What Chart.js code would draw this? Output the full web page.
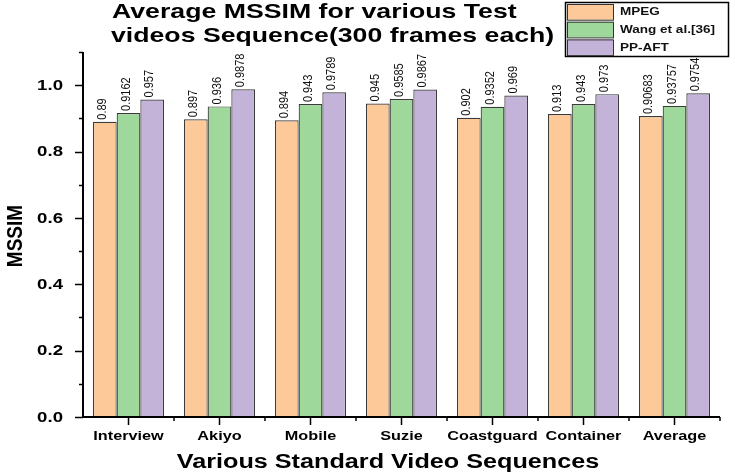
<!DOCTYPE html>
<html>
<head>
<meta charset="utf-8">
<script src="https://cdn.jsdelivr.net/npm/chart.js@4"></script>
<style>
  body { margin: 0; background: #fff; }
  #wrap { width: 735px; height: 475px; }
</style>
</head>
<body>
<div id="wrap"><canvas id="myChart" width="735" height="475"></canvas></div>
<script>
const categories = ['Interview', 'Akiyo', 'Mobile', 'Suzie', 'Coastguard', 'Container', 'Average'];
const seriesNames = ['MPEG', 'Wang et al.[36]', 'PP-AFT'];
const mpeg = [0.89, 0.897, 0.894, 0.945, 0.902, 0.913, 0.90683];
const wang = [0.9162, 0.936, 0.943, 0.9585, 0.9352, 0.943, 0.93757];
const ppaft = [0.957, 0.9878, 0.9789, 0.9867, 0.969, 0.973, 0.9754];
const yTickLabels = ['0.0', '0.2', '0.4', '0.6', '0.8', '1.0'];
const colors = ['#fdc999', '#9ed89b', '#c3b3d8'];
const titleLines = ['Average MSSIM for various Test', 'videos Sequence(300 frames each)'];

// the source image looks stretched sideways, so text is widened a bit
function wideText(ctx, text, x, y, sx, sy) {
    ctx.save();
    ctx.translate(x, y);
    ctx.scale(sx, sy || 1);
    ctx.fillText(text, 0, 0);
    ctx.restore();
}

// draws title, legend, axis lines, tick marks, tick labels and value labels
const extras = {
    id: 'extras',
    afterDatasetsDraw(chart) {
        const ctx = chart.ctx;
        const xs = chart.scales.x, ys = chart.scales.y;
        const a = chart.chartArea;

        // value labels
        ctx.save();
        ctx.fillStyle = '#111';
        ctx.font = '11px "Liberation Sans", Arial';
        ctx.textAlign = 'left';
        ctx.textBaseline = 'alphabetic';
        chart.data.datasets.forEach((ds, i) => {
            chart.getDatasetMeta(i).data.forEach((bar, j) => {
                ctx.save();
                ctx.translate(bar.x + 1, bar.y - 2);
                ctx.rotate(-Math.PI / 2);
                ctx.scale(1, 1.1);
                ctx.fillText(String(ds.data[j]), 0, 0);
                ctx.restore();
            });
        });
        ctx.restore();

        // axes
        ctx.save();
        ctx.strokeStyle = '#000';
        ctx.lineWidth = 2;
        ctx.beginPath();
        ctx.moveTo(a.left, a.top);
        ctx.lineTo(a.left, a.bottom);
        ctx.lineTo(a.right, a.bottom);
        ctx.stroke();

        ctx.lineWidth = 1.5;
        ctx.fillStyle = '#000';
        ctx.font = 'bold 14px "Liberation Sans", Arial';
        ctx.textAlign = 'right';
        ctx.textBaseline = 'middle';
        for (let k = 0; k <= 11; k++) {
            const py = Math.round(ys.getPixelForValue(k / 10)) + 0.5;
            const len = k % 2 === 0 ? 8 : 4;
            ctx.beginPath();
            ctx.moveTo(a.left - len, py);
            ctx.lineTo(a.left, py);
            ctx.stroke();
        }
        yTickLabels.forEach((t) => {
            const py = ys.getPixelForValue(parseFloat(t));
            wideText(ctx, t, 63, py + 1, 1.33);
        });

        const step = (a.right - a.left) / categories.length;
        ctx.font = 'bold 13px "Liberation Sans", Arial';
        ctx.textAlign = 'center';
        for (let k = 0; k < categories.length; k++) {
            const px = xs.getPixelForValue(k);
            ctx.beginPath();
            ctx.moveTo(px, a.bottom);
            ctx.lineTo(px, a.bottom + 8);
            ctx.stroke();
            const bx = a.left + step * (k + 1);
            ctx.beginPath();
            ctx.moveTo(bx, a.bottom);
            ctx.lineTo(bx, a.bottom + 4);
            ctx.stroke();
            wideText(ctx, categories[k], px, a.bottom + 19, 1.25);
        }
        ctx.restore();

        // title
        ctx.save();
        ctx.fillStyle = '#000';
        ctx.font = 'bold 21px "Liberation Sans", Arial';
        ctx.textAlign = 'left';
        ctx.textBaseline = 'alphabetic';
        wideText(ctx, titleLines[0], 112, 18, 1.27);
        wideText(ctx, titleLines[1], 111, 42, 1.27);
        ctx.restore();

        // axis titles
        ctx.save();
        ctx.fillStyle = '#000';
        ctx.font = 'bold 20px "Liberation Sans", Arial';
        ctx.textAlign = 'center';
        ctx.textBaseline = 'middle';
        wideText(ctx, 'Various Standard Video Sequences', 388, 462, 1.26);
        ctx.translate(16, 236);
        ctx.rotate(-Math.PI / 2);
        ctx.font = 'bold 19px "Liberation Sans", Arial';
        ctx.scale(1, 1.2);
        ctx.fillText('MSSIM', 0, 0);
        ctx.restore();

        // legend
        ctx.save();
        ctx.fillStyle = '#fff';
        ctx.fillRect(565, 2, 164, 55);
        ctx.strokeStyle = '#000';
        ctx.lineWidth = 1.5;
        ctx.strokeRect(565.5, 2.5, 163, 54);
        const rowH = 17.7;
        ctx.font = 'bold 11px "Liberation Sans", Arial';
        ctx.textAlign = 'left';
        ctx.textBaseline = 'middle';
        seriesNames.forEach((n, i) => {
            const ry = 3 + i * rowH;
            ctx.fillStyle = colors[i];
            ctx.fillRect(567, ry + 1, 46, rowH - 2);
            ctx.strokeStyle = '#333';
            ctx.lineWidth = 1;
            ctx.strokeRect(567.5, ry + 1.5, 46, rowH - 2);
            ctx.fillStyle = '#111';
            wideText(ctx, n, 620, ry + rowH / 2 + 0.5, 1.23);
        });
        ctx.restore();
    }
};

const data = {
    labels: categories,
    datasets: [mpeg, wang, ppaft].map((vals, i) => ({
        label: seriesNames[i],
        data: vals,
        backgroundColor: colors[i],
        borderColor: '#3a3a3a',
        borderWidth: 1.2,
        barPercentage: 1.0,
        categoryPercentage: 0.78
    }))
};

const config = {
    type: 'bar',
    data: data,
    options: {
        responsive: false,
        animation: false,
        layout: { padding: { top: 52, right: 15, left: 0, bottom: 0 } },
        plugins: {
            legend: { display: false },
            title: { display: false },
            tooltip: { enabled: false }
        },
        scales: {
            x: {
                grid: { display: false, drawTicks: false },
                border: { display: false },
                ticks: { display: false },
                afterFit(scale) { scale.height = 58; }
            },
            y: {
                min: 0,
                max: 1.1,
                grid: { display: false, drawTicks: false },
                border: { display: false },
                ticks: { display: false },
                afterFit(scale) { scale.width = 83; }
            }
        }
    },
    plugins: [extras]
};

const myChart = new Chart(document.getElementById('myChart'), config);
</script>
</body>
</html>
